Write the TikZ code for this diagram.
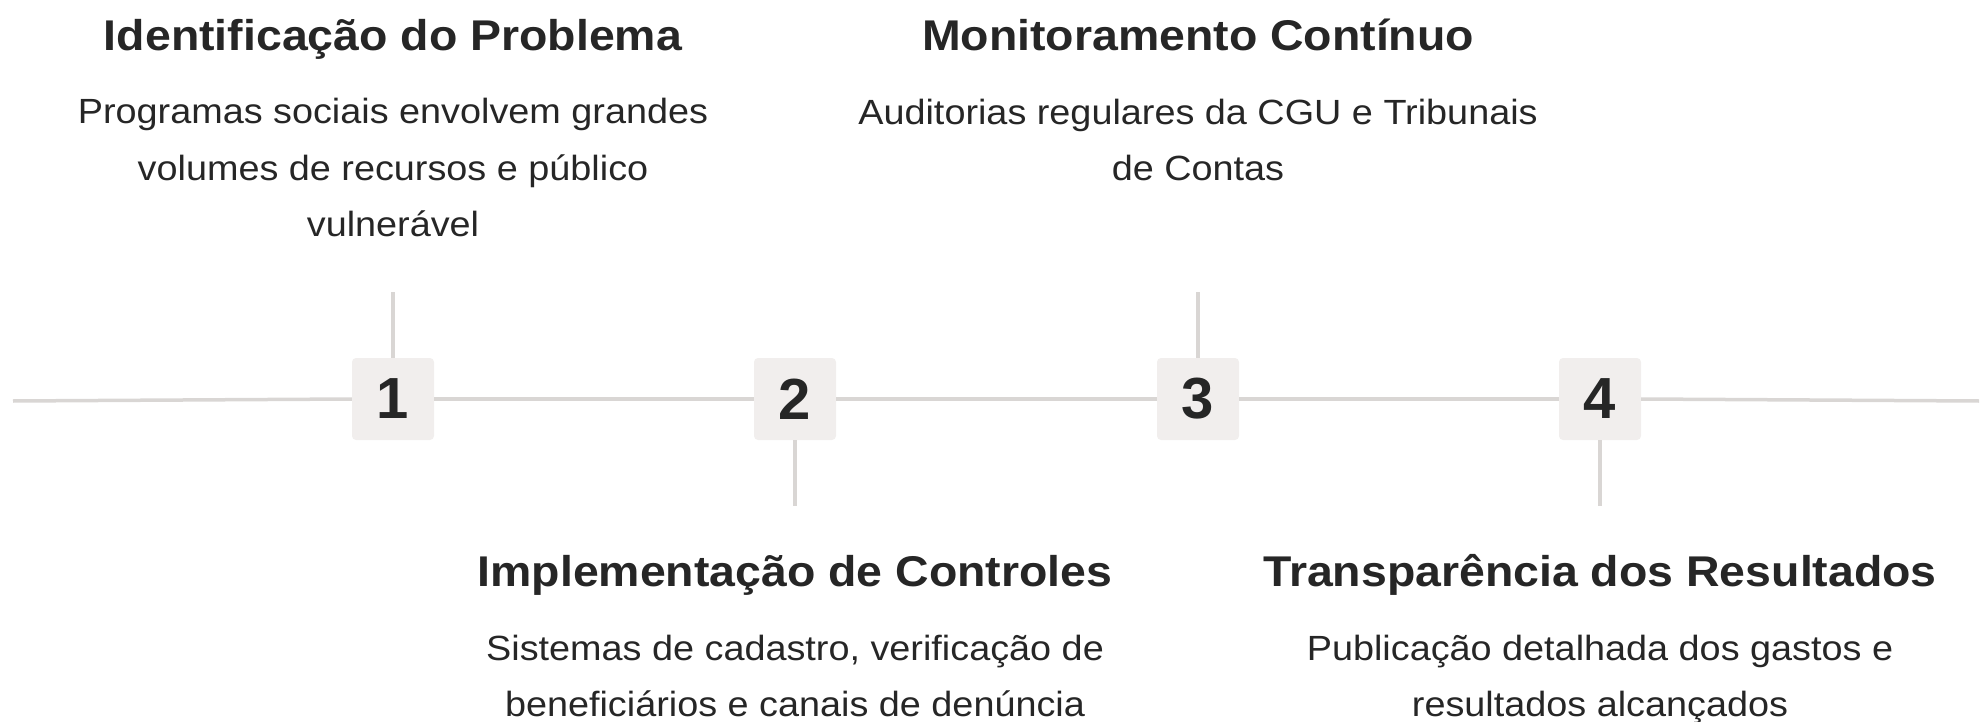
\documentclass[tikz,border=0pt]{standalone}
\usepackage{fontspec}
\setmainfont{Liberation Sans}
\newfontfamily\widesans{Liberation Sans}[FakeStretch=1.08]
\definecolor{linegray}{HTML}{D9D6D4}
\definecolor{boxfill}{HTML}{F1EEED}
\definecolor{ink}{HTML}{262626}
\begin{document}
\begin{tikzpicture}[x=1pt,y=-1pt,
  conn/.style={draw=linegray,line width=3.5pt},
  numbox/.style={fill=boxfill,rounded corners=4pt,minimum width=82pt,minimum height=82pt,inner sep=0pt,font=\fontsize{58}{60}\selectfont\bfseries,text=ink},
  title/.style={font=\widesans\fontsize{43}{50}\selectfont\bfseries,text=ink,inner sep=0pt,anchor=base},
  desc/.style={font=\widesans\fontsize{35}{56.5}\selectfont,text=ink,align=center,inner sep=0pt}]
\useasboundingbox (0,0) rectangle (1983,722);
\coordinate (L) at (13,401);
\coordinate (R) at (1979,401);
\node[numbox] (b1) at (393,399) {1};
\node[numbox] (b2) at (795,399) {2};
\node[numbox] (b3) at (1198,399) {3};
\node[numbox] (b4) at (1600,399) {4};
\coordinate (s1) at (393,292);
\coordinate (s2) at (795,506);
\coordinate (s3) at (1198,292);
\coordinate (s4) at (1600,506);
\draw[conn] (L) -- (b1.west);
\draw[conn] (b1.east) -- (b2.west);
\draw[conn] (b2.east) -- (b3.west);
\draw[conn] (b3.east) -- (b4.west);
\draw[conn] (b4.east) -- (R);
\draw[conn] (b1.north) -- (s1);
\draw[conn] (b2.south) -- (s2);
\draw[conn] (b3.north) -- (s3);
\draw[conn] (b4.south) -- (s4);
\node[title] (t1) at (393,51) {Identificação do Problema};
\node[desc] (d1) at (393,169) {\strut Programas sociais envolvem grandes\\volumes de recursos e público\\vulnerável\strut};
\node[title] (t3) at (1198,51) {Monitoramento Contínuo};
\node[desc] (d3) at (1198,141) {\strut Auditorias regulares da CGU e Tribunais\\de Contas\strut};
\node[title] (t2) at (795,586) {Implementação de Controles};
\node[desc] (d2) at (795,677) {\strut Sistemas de cadastro, verificação de\\beneficiários e canais de denúncia\strut};
\node[title] (t4) at (1600,586) {Transparência dos Resultados};
\node[desc] (d4) at (1600,677) {\strut Publicação detalhada dos gastos e\\resultados alcançados\strut};
\end{tikzpicture}
\end{document}
